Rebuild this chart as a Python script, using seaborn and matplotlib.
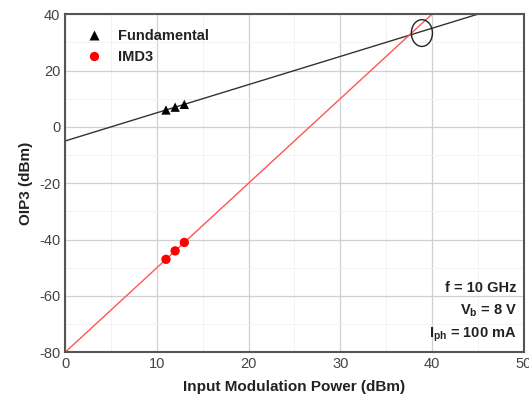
import numpy as np
import pandas as pd
import seaborn as sns
import matplotlib.pyplot as plt
from matplotlib.patches import Ellipse
from matplotlib.ticker import MultipleLocator

# data
fund_x = [11, 12, 13]
fund_y = [6.0, 7.0, 8.0]
imd3_x = [11, 12, 13]
imd3_y = [-47.0, -44.0, -41.0]
# fitted lines (end points)
fund_line_x = [0, 45]
fund_line_y = [-5, 40]
imd3_line_x = [0, 40]
imd3_line_y = [-80, 40]
notes = ["f = 10 GHz", r"V$_\mathregular{b}$ = 8 V", r"I$_\mathregular{ph}$ = 100 mA"]

sns.set_style("white")
plt.rcParams['font.family'] = ['Liberation Sans', 'DejaVu Sans']
plt.rcParams['axes.unicode_minus'] = False

fig, ax = plt.subplots(figsize=(5.29, 4.05), dpi=100)

pts = pd.DataFrame({
    "x": fund_x + imd3_x,
    "y": fund_y + imd3_y,
    "series": ["Fundamental"] * 3 + ["IMD3"] * 3,
})

sns.lineplot(x=fund_line_x, y=fund_line_y, color="#333333", lw=1.0, ax=ax)
sns.lineplot(x=imd3_line_x, y=imd3_line_y, color="#ff5555", lw=1.0, ax=ax)
sns.scatterplot(data=pts, x="x", y="y", hue="series", style="series",
                palette={"Fundamental": "black", "IMD3": "red"},
                markers={"Fundamental": "^", "IMD3": "o"},
                s=45, edgecolor="none", ax=ax, zorder=5)

ax.add_patch(Ellipse((38.9, 33.3), 2.3, 9.5, fill=False, color="#222222", lw=1.0, zorder=6))

ax.set_xlim(0, 50)
ax.set_ylim(-80, 40)
ax.xaxis.set_major_locator(MultipleLocator(10))
ax.xaxis.set_minor_locator(MultipleLocator(5))
ax.yaxis.set_major_locator(MultipleLocator(20))
ax.yaxis.set_minor_locator(MultipleLocator(10))
ax.grid(which="major", color="#d0d0d0", lw=0.9)
ax.grid(which="minor", color="#f3f3f3", lw=0.7)
ax.set_axisbelow(True)
ax.tick_params(which="both", direction="in", color="#333333", labelsize=10.5, labelcolor="#444444")
ax.tick_params(which="major", length=5)
ax.tick_params(which="minor", length=3)
for sp in ax.spines.values():
    sp.set_visible(True)
    sp.set_color("#555555")
    sp.set_linewidth(1.5)

ax.set_xlabel("Input Modulation Power (dBm)", fontsize=11, fontweight="bold", color="#222222", labelpad=6)
ax.set_ylabel("OIP3 (dBm)", fontsize=11, fontweight="bold", color="#222222")

leg = ax.legend(loc="upper left", frameon=False, fontsize=10.5, handletextpad=0.6,
                borderaxespad=0.6, title=None)
for t in leg.get_texts():
    t.set_fontweight("bold")
    t.set_color("#222222")

ax.text(0.985, 0.025, "\n".join(notes), transform=ax.transAxes, ha="right", va="bottom",
        fontsize=10.5, fontweight="bold", color="#222222", linespacing=1.55)

fig.subplots_adjust(left=0.123, right=0.99, top=0.965, bottom=0.13)
fig.savefig("out.png", dpi=100)
